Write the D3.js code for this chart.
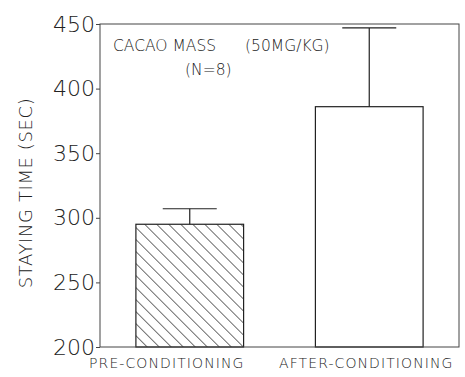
<!DOCTYPE html>
<html>
  <head>
    <meta charset="utf-8" />
    <title>Cacao mass staying time</title>
    <style>
      body { margin: 0; background: #fff; }
      text { font-family: "DejaVu Sans", sans-serif; font-weight: 200; fill: #222; }
      .frame { fill: none; stroke: #444; stroke-width: 1px; }
      .bar { stroke: #222; stroke-width: 1.2px; }
      .err { stroke: #222; stroke-width: 1.2px; }
    </style>
  </head>
  <body>
    <svg id="chart"></svg>
    <script src="https://d3js.org/d3.v7.min.js"></script>
    <script>
      const categories = ["PRE-CONDITIONING", "AFTER-CONDITIONING"];
      const values = [295, 386];
      const errors = [12, 61];
      const yTicks = [200, 250, 300, 350, 400, 450];

      const width = 465;
      const height = 377;
      const margin = { top: 24, right: 6, bottom: 30, left: 100 };
      const innerWidth = width - margin.left - margin.right;
      const innerHeight = height - margin.top - margin.bottom;

      const svg = d3.select("#chart").attr("width", width).attr("height", height);

      const defs = svg.append("defs");
      const hatch = defs
        .append("pattern")
        .attr("id", "hatch")
        .attr("patternUnits", "userSpaceOnUse")
        .attr("width", 8.5)
        .attr("height", 8.5)
        .attr("patternTransform", "rotate(-45)");
      hatch
        .append("line")
        .attr("x1", 0)
        .attr("y1", 0)
        .attr("x2", 0)
        .attr("y2", 8.5)
        .attr("stroke", "#222")
        .attr("stroke-width", 1.3);

      const chart = svg
        .append("g")
        .attr("transform", `translate(${margin.left},${margin.top})`);

      const x = d3
        .scaleBand()
        .domain(categories)
        .range([0, innerWidth])
        .paddingInner(0.4)
        .paddingOuter(0.2);

      const y = d3.scaleLinear().domain([200, 450]).range([innerHeight, 0]);

      // bars
      chart
        .selectAll(".bar")
        .data(categories)
        .join("rect")
        .attr("class", "bar")
        .attr("x", (d) => x(d))
        .attr("width", x.bandwidth())
        .attr("y", (d, i) => y(values[i]))
        .attr("height", (d, i) => y(200) - y(values[i]))
        .attr("fill", (d, i) => (i === 0 ? "url(#hatch)" : "#fff"));

      // error bars
      const capW = 54;
      categories.forEach((c, i) => {
        const cx = x(c) + x.bandwidth() / 2;
        chart
          .append("line")
          .attr("class", "err")
          .attr("x1", cx)
          .attr("x2", cx)
          .attr("y1", y(values[i]))
          .attr("y2", y(values[i] + errors[i]));
        chart
          .append("line")
          .attr("class", "err")
          .attr("x1", cx - capW / 2)
          .attr("x2", cx + capW / 2)
          .attr("y1", y(values[i] + errors[i]))
          .attr("y2", y(values[i] + errors[i]));
      });

      // frame
      chart
        .append("rect")
        .attr("class", "frame")
        .attr("width", innerWidth)
        .attr("height", innerHeight);

      // y axis
      const yAxis = chart
        .append("g")
        .call(d3.axisLeft(y).tickValues(yTicks).tickSize(4).tickPadding(1));
      yAxis.select(".domain").remove();
      yAxis.selectAll("line").attr("stroke", "#444");
      yAxis
        .selectAll("text")
        .style("font-size", "22px")
        .style("font-family", "DejaVu Sans, sans-serif")
        .style("font-weight", 200)
        .attr("fill", "#222");

      // x axis labels, shifted a little like the original print
      const labelShift = [-23, -3];
      const xAxis = chart
        .append("g")
        .attr("transform", `translate(0,${innerHeight})`)
        .call(d3.axisBottom(x).tickSize(0).tickPadding(11));
      xAxis.select(".domain").remove();
      xAxis
        .selectAll("text")
        .attr("dx", (d, i) => labelShift[i])
        .style("font-size", "14px")
        .style("font-family", "DejaVu Sans, sans-serif")
        .style("font-weight", 200)
        .style("letter-spacing", "1.1px")
        .attr("fill", "#222");

      // y axis title
      svg
        .append("text")
        .attr("transform", `translate(32,193) rotate(-90)`)
        .attr("text-anchor", "middle")
        .style("font-size", "18px")
        .style("letter-spacing", "0.6px")
        .text("STAYING TIME (SEC)");

      // annotation
      chart
        .append("text")
        .attr("x", 13)
        .attr("y", 27)
        .style("font-size", "15.5px")
        .text("CACAO MASS");
      chart
        .append("text")
        .attr("x", 145)
        .attr("y", 27)
        .style("font-size", "15.5px")
        .text("(50MG/KG)");
      chart
        .append("text")
        .attr("x", 85)
        .attr("y", 51)
        .style("font-size", "15.5px")
        .text("(N=8)");
    </script>
  </body>
</html>
